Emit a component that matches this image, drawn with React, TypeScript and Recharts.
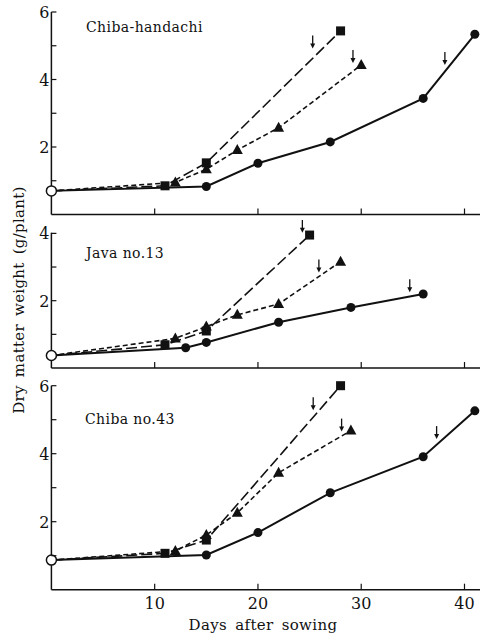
import { ComposedChart, Line, Scatter, XAxis, YAxis } from 'recharts';

type Pt = { day: number; w: number };

const DAY_TICKS = [10, 20, 30, 40];

// Chiba-handachi
const handachiCircleDays = [0, 15, 20, 27, 36, 41];
const handachiCircleWeight = [0.7, 0.83, 1.52, 2.15, 3.44, 5.34];
const handachiSquareDays = [0, 11, 15, 28];
const handachiSquareWeight = [0.7, 0.85, 1.53, 5.44];
const handachiTriangleDays = [0, 12, 15, 18, 22, 30];
const handachiTriangleWeight = [0.7, 0.95, 1.34, 1.91, 2.57, 4.43];
const handachiArrowDays = [25.3, 29.2, 38.1];
const handachiArrowWeight = [4.92, 4.49, 4.43];

// Java no.13
const javaCircleDays = [0, 13, 15, 22, 29, 36];
const javaCircleWeight = [0.37, 0.6, 0.76, 1.36, 1.8, 2.2];
const javaSquareDays = [0, 11, 15, 25];
const javaSquareWeight = [0.37, 0.69, 1.1, 3.95];
const javaTriangleDays = [0, 12, 15, 18, 22, 28];
const javaTriangleWeight = [0.37, 0.88, 1.23, 1.58, 1.9, 3.16];
const javaArrowDays = [24.3, 25.9, 34.7];
const javaArrowWeight = [4.02, 2.84, 2.25];

// Chiba no.43
const no43CircleDays = [0, 15, 20, 27, 36, 41];
const no43CircleWeight = [0.87, 1.02, 1.68, 2.85, 3.91, 5.26];
const no43SquareDays = [0, 11, 15, 28];
const no43SquareWeight = [0.87, 1.07, 1.46, 6.0];
const no43TriangleDays = [0, 12, 15, 18, 22, 29];
const no43TriangleWeight = [0.87, 1.14, 1.61, 2.26, 3.44, 4.68];
const no43ArrowDays = [25.35, 28.1, 37.3];
const no43ArrowWeight = [5.28, 4.65, 4.43];

const zip = (days: number[], w: number[]): Pt[] => days.map((d, i) => ({ day: d, w: w[i] }));

const INK = '#111';
const FONT = "'DejaVu Serif', 'Liberation Serif', serif";
const serif = { fontFamily: FONT };

const CircleDot = (p: any) => {
  const { cx, cy, payload, index } = p;
  if (cx == null || payload.day === 0) return <g key={`c${index}`} />;
  return <circle key={`c${index}`} cx={cx} cy={cy} r={4.5} fill={INK} />;
};

const SquareDot = (p: any) => {
  const { cx, cy, payload, index } = p;
  if (cx == null || payload.day === 0) return <g key={`s${index}`} />;
  return <rect key={`s${index}`} x={cx - 4.5} y={cy - 4.5} width={9} height={9} fill={INK} />;
};

const TriangleDot = (p: any) => {
  const { cx, cy, payload, index } = p;
  if (cx == null || payload.day === 0) return <g key={`t${index}`} />;
  return (
    <polygon
      key={`t${index}`}
      points={`${cx},${cy - 6} ${cx - 5.5},${cy + 4} ${cx + 5.5},${cy + 4}`}
      fill={INK}
    />
  );
};

const OpenCircle = (p: any) => (
  <circle cx={p.cx} cy={p.cy} r={5} fill="#fff" stroke={INK} strokeWidth={1.5} />
);

const Arrow = (p: any) => {
  const { cx, cy } = p;
  return (
    <g>
      <line x1={cx} y1={cy - 13} x2={cx} y2={cy - 3} stroke={INK} strokeWidth={1.3} />
      <polygon points={`${cx - 2.5},${cy - 5} ${cx + 2.5},${cy - 5} ${cx},${cy}`} fill={INK} />
    </g>
  );
};

const DayTick = (p: any) => {
  const { x, y, payload, showLabel } = p;
  return (
    <g>
      <line x1={x} y1={y} x2={x} y2={y - 6} stroke={INK} strokeWidth={1.2} />
      {showLabel && (
        <text x={x} y={y + 19} textAnchor="middle" fontSize={16} style={serif} fill={INK}>
          {payload.value}
        </text>
      )}
    </g>
  );
};

const WeightTick = (p: any) => {
  const { x, y, payload } = p;
  const v = payload.value;
  return (
    <g>
      <line x1={x} y1={y} x2={x + 5} y2={y} stroke={INK} strokeWidth={1.2} />
      {v % 2 === 0 && (
        <text x={x - 2} y={y + 6} textAnchor="end" fontSize={16} style={serif} fill={INK}>
          {v}
        </text>
      )}
    </g>
  );
};

type PanelProps = {
  top: number;
  marginTop: number;
  plotHeight: number;
  axisHeight: number;
  yMax: number;
  showDayLabels: boolean;
  circle: Pt[];
  square: Pt[];
  triangle: Pt[];
  arrows: Pt[];
};

const Panel = ({ top, marginTop, plotHeight, axisHeight, yMax, showDayLabels, circle, square, triangle, arrows }: PanelProps) => {
  const height = marginTop + plotHeight + axisHeight;
  const yTicks = Array.from({ length: yMax }, (_, i) => i + 1);
  return (
    <div style={{ position: 'absolute', left: 0, top, width: 480, height }}>
      <ComposedChart width={480} height={height} margin={{ top: marginTop, right: 0, bottom: 0, left: 0 }}>
        <XAxis
          dataKey="day"
          type="number"
          domain={[0, 41.5]}
          ticks={DAY_TICKS}
          tickLine={false}
          tickSize={0}
          tickMargin={0}
          height={axisHeight}
          axisLine={{ stroke: INK, strokeWidth: 1.5 }}
          tick={<DayTick showLabel={showDayLabels} />}
        />
        <YAxis
          dataKey="w"
          type="number"
          domain={[0, yMax]}
          ticks={yTicks}
          width={51.4}
          tickLine={false}
          tickSize={0}
          tickMargin={0}
          axisLine={{ stroke: INK, strokeWidth: 1.5 }}
          tick={<WeightTick />}
        />
        <Line data={circle} dataKey="w" stroke={INK} strokeWidth={2} dot={CircleDot} isAnimationActive={false} />
        <Line data={square} dataKey="w" stroke={INK} strokeWidth={1.6} strokeDasharray="11 4" dot={SquareDot} isAnimationActive={false} />
        <Line data={triangle} dataKey="w" stroke={INK} strokeWidth={1.6} strokeDasharray="5 3" dot={TriangleDot} isAnimationActive={false} />
        <Scatter data={arrows} shape={Arrow} isAnimationActive={false} />
        <Scatter data={[circle[0]]} shape={OpenCircle} isAnimationActive={false} />
      </ComposedChart>
    </div>
  );
};

export default function App() {
  return (
    <div style={{ position: 'absolute', left: 0, top: 0, width: 480, height: 636, background: '#fff', overflow: 'hidden', fontFamily: FONT }}>
      <Panel
        top={0}
        marginTop={12}
        plotHeight={202.5}
        axisHeight={4}
        yMax={6}
        showDayLabels={false}
        circle={zip(handachiCircleDays, handachiCircleWeight)}
        square={zip(handachiSquareDays, handachiSquareWeight)}
        triangle={zip(handachiTriangleDays, handachiTriangleWeight)}
        arrows={zip(handachiArrowDays, handachiArrowWeight)}
      />
      <Panel
        top={220}
        marginTop={12.7}
        plotHeight={135.3}
        axisHeight={4}
        yMax={4}
        showDayLabels={false}
        circle={zip(javaCircleDays, javaCircleWeight)}
        square={zip(javaSquareDays, javaSquareWeight)}
        triangle={zip(javaTriangleDays, javaTriangleWeight)}
        arrows={zip(javaArrowDays, javaArrowWeight)}
      />
      <Panel
        top={374}
        marginTop={11.7}
        plotHeight={204}
        axisHeight={46}
        yMax={6}
        showDayLabels={true}
        circle={zip(no43CircleDays, no43CircleWeight)}
        square={zip(no43SquareDays, no43SquareWeight)}
        triangle={zip(no43TriangleDays, no43TriangleWeight)}
        arrows={zip(no43ArrowDays, no43ArrowWeight)}
      />
      <svg width={480} height={636} style={{ position: 'absolute', left: 0, top: 0, pointerEvents: 'none' }}>
        <g style={serif} fill={INK}>
          <text x={86} y={32} fontSize={14} letterSpacing={0.4}>Chiba-handachi</text>
          <text x={86} y={258} fontSize={14} letterSpacing={0.4}>Java no.13</text>
          <text x={85} y={424} fontSize={14} letterSpacing={0.4}>Chiba no.43</text>
          <text x={263} y={630} fontSize={15} letterSpacing={0.35} wordSpacing={3} textAnchor="middle">
            Days after sowing
          </text>
          <text
            x={0}
            y={0}
            fontSize={15}
            letterSpacing={0.3}
            wordSpacing={3}
            textAnchor="middle"
            transform="translate(24 300) rotate(-90)"
          >
            Dry matter weight (g/plant)
          </text>
        </g>
      </svg>
    </div>
  );
}
